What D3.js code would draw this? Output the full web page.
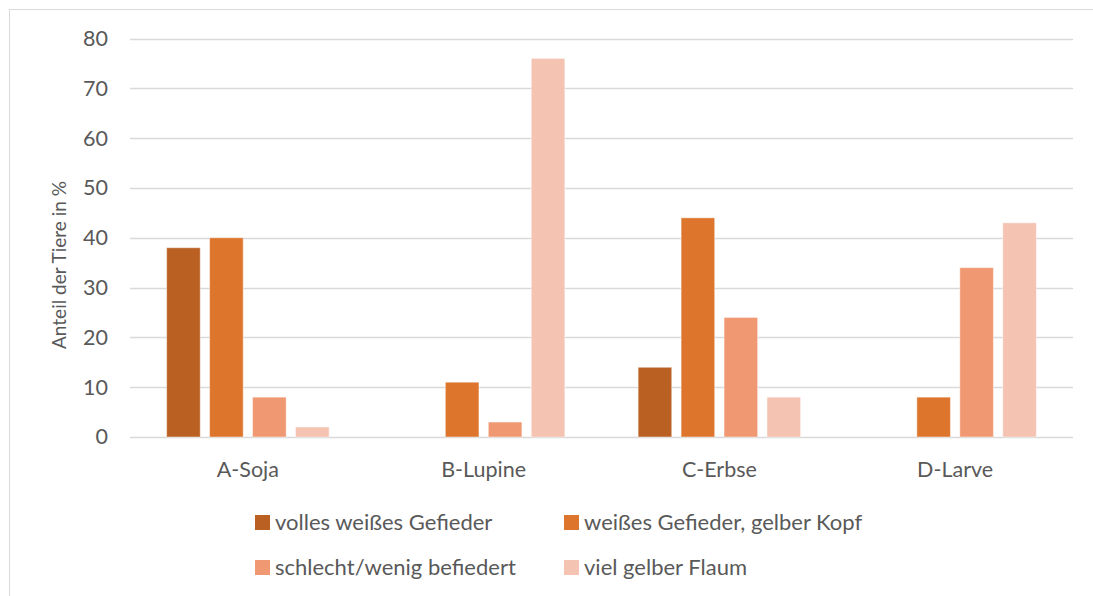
<!DOCTYPE html>
<html>
<head>
<meta charset="UTF-8">
<title>Anteil der Tiere</title>
<script src="https://cdn.jsdelivr.net/npm/d3@7"></script>
<style>
  body { margin: 0; background: #fff; }
  text { font-family: Lato, "Open Sans", sans-serif; fill: #595959; }
</style>
</head>
<body>
<script>
// Daten
var categories = ["A-Soja", "B-Lupine", "C-Erbse", "D-Larve"];
var seriesNames = ["volles weißes Gefieder", "weißes Gefieder, gelber Kopf",
                   "schlecht/wenig befiedert", "viel gelber Flaum"];
var vollesWeiss = [38, 0, 14, 0];
var weissGelberKopf = [40, 11, 44, 8];
var schlechtBefiedert = [8, 3, 24, 34];
var gelberFlaum = [2, 76, 8, 43];
var yTicks = [0, 10, 20, 30, 40, 50, 60, 70, 80];
var colors = ["#ba6023", "#de752c", "#f09871", "#f5c3b1"];

var allSeries = [vollesWeiss, weissGelberKopf, schlechtBefiedert, gelberFlaum];

var W = 1093, H = 596;
var svg = d3.select("body").append("svg")
  .attr("width", W).attr("height", H);

// Rahmen (nur oben und links sichtbar)
svg.append("rect")
  .attr("x", 9.5).attr("y", 9.5)
  .attr("width", W + 20).attr("height", H + 20)
  .attr("fill", "none").attr("stroke", "#d9d9d9");

var x0 = d3.scaleBand().domain(categories).range([130, 1073]).padding(0);
var x1 = d3.scaleBand().domain(d3.range(4)).range([0, x0.bandwidth()])
  .paddingInner(0.218).paddingOuter(0.853);
var y = d3.scaleLinear().domain([0, 80]).range([437, 38.5]);

// Gitterlinien
svg.append("g").selectAll("line")
  .data(yTicks).enter().append("line")
  .attr("x1", 130).attr("x2", 1073)
  .attr("y1", function(d){ return Math.round(y(d)) + 0.5; })
  .attr("y2", function(d){ return Math.round(y(d)) + 0.5; })
  .attr("stroke", "#d9d9d9").attr("stroke-width", 1.3);

// y-Achse
var yAxis = svg.append("g")
  .attr("transform", "translate(108,0)")
  .call(d3.axisLeft(y).tickValues(yTicks).tickSize(0).tickPadding(0));
yAxis.select(".domain").remove();
yAxis.selectAll("text").style("font-size", "21.5px").attr("fill", "#595959");

// x-Achse
var xAxis = svg.append("g")
  .attr("transform", "translate(0,477)")
  .call(d3.axisBottom(x0).tickSize(0).tickPadding(0));
xAxis.select(".domain").remove();
xAxis.selectAll("text").style("font-size", "21.5px").attr("fill", "#595959")
  .attr("y", 0).attr("dy", 0);

// Balken
var groups = svg.append("g").selectAll("g")
  .data(categories).enter().append("g")
  .attr("transform", function(d){ return "translate(" + x0(d) + ",0)"; });

groups.selectAll("rect")
  .data(function(d, i){ return allSeries.map(function(s, k){ return {k: k, v: s[i]}; }); })
  .enter().append("rect")
  .filter(function(d){ return d.v > 0; })
  .attr("x", function(d){ return x1(d.k); })
  .attr("y", function(d){ return y(d.v); })
  .attr("width", x1.bandwidth())
  .attr("height", function(d){ return y(0) - y(d.v); })
  .attr("fill", function(d){ return colors[d.k]; })
  .attr("stroke", "#ffffff").attr("stroke-opacity", 0.45).attr("stroke-width", 1);

// Achsentitel
svg.append("text")
  .attr("transform", "translate(66,265) rotate(-90)")
  .attr("text-anchor", "middle")
  .style("font-size", "19px")
  .text("Anteil der Tiere in %");

// Legende
var legPos = [[255, 515], [564, 515], [255, 560], [564, 560]];
var leg = svg.append("g").selectAll("g")
  .data(seriesNames).enter().append("g")
  .attr("transform", function(d, i){ return "translate(" + legPos[i][0] + "," + legPos[i][1] + ")"; });
leg.append("rect")
  .attr("width", 15).attr("height", 15)
  .attr("fill", function(d, i){ return colors[i]; });
leg.append("text")
  .attr("x", 20).attr("y", 15)
  .style("font-size", "22px")
  .text(function(d){ return d; });
</script>
</body>
</html>
